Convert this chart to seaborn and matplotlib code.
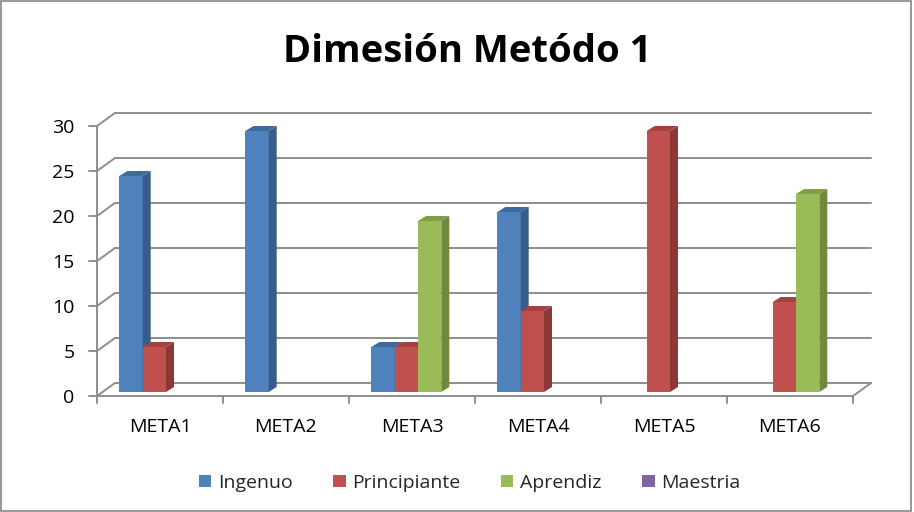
"""
Gráfico de barras 3D (estilo Excel) - Dimensión Método 1.
Reproducción con seaborn + matplotlib, guardado en out.png.
"""

import matplotlib

matplotlib.use("Agg")  # sin display
import matplotlib.pyplot as plt
import matplotlib.transforms as mtransforms
import pandas as pd
import seaborn as sns
from matplotlib.patches import Patch, Polygon, Rectangle

# --- datos ---
metas = ["META1", "META2", "META3", "META4", "META5", "META6"]
niveles = ["Ingenuo", "Principiante", "Aprendiz", "Maestria"]
ingenuo = [24, 29, 5, 20, 0, 0]
principiante = [5, 0, 5, 9, 29, 10]
aprendiz = [0, 0, 19, 0, 0, 22]
maestria = [0, 0, 0, 0, 0, 0]
y_ticks = [0, 5, 10, 15, 20, 25, 30]

colores = ["#4F81BD", "#C0504D", "#9BBB59", "#8064A2"]
laterales = ["#385D8A", "#8C3836", "#71893F", "#5C4776"]
techos = ["#3F6A9E", "#A34240", "#809E48", "#6B5389"]
gris = "#8E8E8E"

series = {"Ingenuo": ingenuo, "Principiante": principiante,
          "Aprendiz": aprendiz, "Maestria": maestria}
df = pd.DataFrame(
    [(m, n, v) for n, vals in series.items() for m, v in zip(metas, vals)],
    columns=["meta", "nivel", "valor"],
)

sns.set_style("white")
plt.rcParams["font.family"] = ["Open Sans", "DejaVu Sans"]

W, H = 914, 512
fig = plt.figure(figsize=(W / 100, H / 100), dpi=100)
# plano de las barras (en pixeles)
ax_l, ax_b, ax_w, ax_h = 103, 120, 756, 270
ax = fig.add_axes([ax_l / W, ax_b / H, ax_w / W, ax_h / H])

sns.barplot(data=df, x="meta", y="valor", hue="nivel", hue_order=niveles,
            palette=colores, saturation=1, width=0.74, errorbar=None,
            legend=False, ax=ax)
ax.set_xlim(-0.5, len(metas) - 0.5)
ax.set_ylim(0, 30)

ppx = ax_w / len(metas)  # px por unidad en x
ppy = ax_h / 30          # px por unidad en y


def plano(x, y, ox, oy):
    """Desplaza un punto de datos ox, oy pixeles (plano frontal / fondo)."""
    return x + ox / ppx, y + oy / ppy


FRENTE = (-6, -4)
FONDO = (12, 9)

# profundidad de cada barra
dx, dy = 8 / ppx, 5 / ppy
barras = []
for i, cont in enumerate(ax.containers):
    for bar in cont:
        barras.append((bar.get_x(), i, bar))
barras.sort(key=lambda b: b[0])
for k, (x0, i, bar) in enumerate(barras):
    h = bar.get_height()
    if h <= 0:
        bar.set_visible(False)
        continue
    z = 3 + 3 * k
    bar.set_zorder(z)
    bar.set_edgecolor("none")
    x1 = x0 + bar.get_width()
    ax.add_patch(Polygon([(x1, 0), (x1 + dx, dy), (x1 + dx, h + dy), (x1, h)],
                         closed=True, fc=laterales[i], ec="none", zorder=z + 1,
                         clip_on=False))
    ax.add_patch(Polygon([(x0, h), (x0 + dx, h + dy), (x1 + dx, h + dy), (x1, h)],
                         closed=True, fc=techos[i], ec="none", zorder=z + 1,
                         clip_on=False))

x_min, x_max = ax.get_xlim()
lw = 1.4
# pared del fondo: lineas de la grilla
for t in y_ticks:
    xa, ya = plano(x_min, t, *FONDO)
    xb, yb = plano(x_max, t, *FONDO)
    ax.plot([xa, xb], [ya, yb], color=gris, lw=lw, zorder=1, clip_on=False)
    # pared izquierda: lineas inclinadas
    xf, yf = plano(x_min, t, *FRENTE)
    ax.plot([xf, xa], [yf, ya], color=gris, lw=lw, zorder=1, clip_on=False)
    # marcas del eje vertical
    ax.plot([xf - 8 / ppx, xf], [yf, yf], color=gris, lw=lw, zorder=1,
            clip_on=False)

# eje vertical frontal y piso
xf0, yf0 = plano(x_min, 0, *FRENTE)
xf1, yf1 = plano(x_max, 0, *FRENTE)
_, yf30 = plano(x_min, 30, *FRENTE)
ax.plot([xf0, xf0], [yf0, yf30], color=gris, lw=lw, zorder=1, clip_on=False)
ax.plot([xf0, xf1], [yf0, yf1], color=gris, lw=lw, zorder=1, clip_on=False)
xb1, yb1 = plano(x_max, 0, *FONDO)
ax.plot([xf1, xb1], [yf1, yb1], color=gris, lw=lw, zorder=1, clip_on=False)
for k in range(len(metas) + 1):
    xt, yt = plano(x_min + k, 0, *FRENTE)
    ax.plot([xt, xt], [yt, yt - 7 / ppy], color=gris, lw=lw, zorder=1,
            clip_on=False)

# etiquetas de los ejes
ax.set_yticks(y_ticks)
ax.set_yticklabels([str(t) for t in y_ticks])
ax.tick_params(axis="y", length=0, pad=20.5, labelsize=14, labelcolor="black")
ax.tick_params(axis="x", length=0, pad=19, labelsize=14, labelcolor="black")
for lab in ax.get_yticklabels():
    lab.set_transform(lab.get_transform()
                      + mtransforms.ScaledTranslation(0, -4 / 100, fig.dpi_scale_trans))
for lab in ax.get_xticklabels():
    lab.set_transform(lab.get_transform()
                      + mtransforms.ScaledTranslation(-6 / 100, 0, fig.dpi_scale_trans))
ax.set_xlabel("")
ax.set_ylabel("")
sns.despine(ax=ax, left=True, bottom=True)
ax.set_facecolor("none")

fig.text(0.511, 1 - 52 / H, "Dimesión Metódo 1", ha="center", va="center",
         fontsize=27.5, fontweight="bold", color="black")

handles = [Patch(fc=c, ec="none", label=n) for c, n in zip(colores, niveles)]
fig.legend(handles=handles, loc="center", bbox_to_anchor=(0.514, 1 - 483 / H),
           ncol=4, frameon=False, fontsize=14, handlelength=0.62,
           handleheight=0.62, handletextpad=0.35, columnspacing=2.1)

fig.patches.append(Rectangle((0.001, 0.001), 0.996, 0.997, transform=fig.transFigure,
                             fill=False, ec="#868686", lw=1.2))

fig.savefig("out.png", dpi=100)
plt.close(fig)
